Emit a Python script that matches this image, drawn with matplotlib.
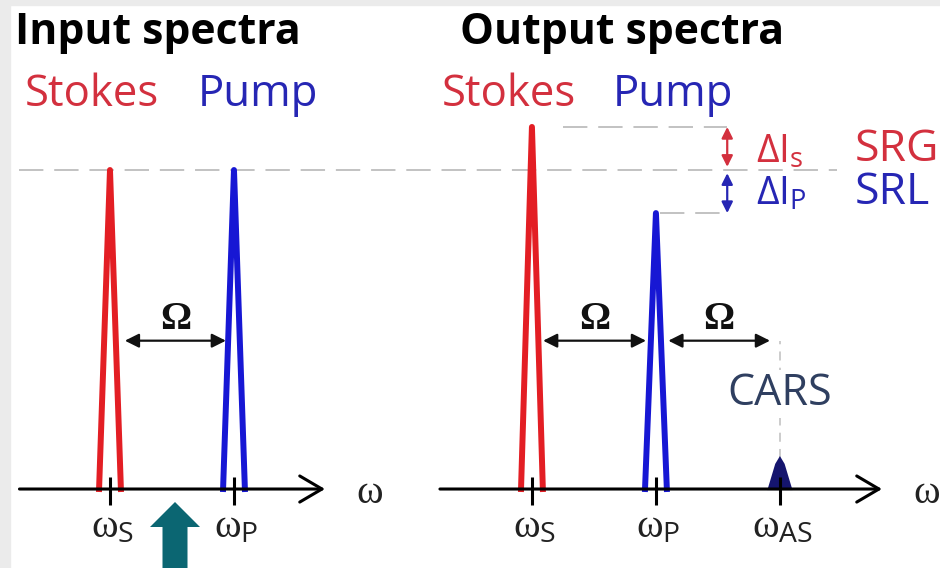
import numpy as np
import matplotlib
matplotlib.use("Agg")
import matplotlib.pyplot as plt
from matplotlib.patches import FancyArrowPatch, FancyArrow, Rectangle
from matplotlib.transforms import Affine2D

# spectra: frequency in units of the Raman shift, intensity relative to the input
in_freq = [0.0, 1.0]
in_amp = [1.0, 1.0]
in_colors = ["#e31e24", "#1717d4"]
in_ticks = [r"$\mathrm{\omega}_{\mathsf{S}}$", r"$\mathrm{\omega}_{\mathsf{P}}$"]

out_freq = [0.0, 1.0, 2.0]
out_amp = [1.135, 0.865, 0.097]
out_colors = ["#e31e24", "#1717d4", "#15156e"]
out_ticks = [r"$\mathrm{\omega}_{\mathsf{S}}$", r"$\mathrm{\omega}_{\mathsf{P}}$",
             r"$\mathrm{\omega}_{\mathsf{AS}}$"]

names = ["Stokes", "Pump"]
titles = ["Input spectra", "Output spectra"]

plt.rcParams['font.family'] = ['Open Sans', 'DejaVu Sans']
plt.rcParams['mathtext.fontset'] = 'custom'
plt.rcParams['mathtext.rm'] = 'Liberation Serif'
plt.rcParams['mathtext.it'] = 'Liberation Serif:italic'
plt.rcParams['mathtext.sf'] = 'Open Sans'

OUT_X0 = 3.403      # where the output panel starts on the common frequency axis
HALF_W = 0.088      # half width of a peak at its base
RED_TXT = "#d3303e"
BLUE_TXT = "#2626b4"
DASH = "#bdbdbd"

fig = plt.figure(figsize=(9.4, 5.68), dpi=100)
ax = fig.add_axes([0, 0, 1, 1])
ax.set_xlim(-0.887, 6.694)
ax.set_ylim(-0.2476, 1.533)
ax.axis('off')

# pixel transform (origin top left) for the free text
PX = Affine2D().scale(1 / 940, -1 / 568).translate(0, 1) + fig.transFigure

# light grey frame on the left and top
fig.patches.append(Rectangle((0, 0), 10, 568, transform=PX, color="#ebebeb", zorder=0))
fig.patches.append(Rectangle((0, 0), 940, 5, transform=PX, color="#ebebeb", zorder=0))


def peak(x0, a, color):
    ax.plot([x0 - HALF_W, x0, x0 + HALF_W], [0, a, 0], color=color, lw=4.3,
            solid_joinstyle='round', zorder=3)


def axis_line(x_start, x_end, freqs, labels):
    ax.add_patch(FancyArrowPatch((x_start, 0), (x_end, 0),
                                 arrowstyle='->,head_length=0.8,head_width=0.47',
                                 mutation_scale=20, lw=2.2, color='black',
                                 shrinkA=0, shrinkB=0, zorder=4))
    ax.vlines(freqs, -0.05, 0.038, color='black', lw=2.2, zorder=5)
    for f, lab in zip(freqs, labels):
        ax.text(f + 0.02, -0.118, lab, ha='center', va='center', fontsize=29,
                color='#222222')
    ax.text(x_end + 0.36, -0.012, r"$\mathrm{\omega}$", ha='center', va='center',
            fontsize=29, color='#222222')


def omega_arrow(x1, x2, y=0.465):
    ax.add_patch(FancyArrowPatch((x1, y), (x2, y),
                                 arrowstyle='<|-|>,head_length=0.7,head_width=0.35',
                                 mutation_scale=12, lw=1.6, color='#111111',
                                 shrinkA=0, shrinkB=0))
    ax.text((x1 + x2) / 2, y + 0.065, "Ω", ha='center', va='center', fontsize=28,
            fontweight='bold', family='Liberation Serif', color='#111111')


# input panel
for f, a, c in zip(in_freq, in_amp, in_colors):
    peak(f, a, c)
axis_line(-0.73, 1.734, in_freq, in_ticks)
omega_arrow(in_freq[0] + 0.12, in_freq[1] - 0.065)

# output panel
of = [OUT_X0 + f for f in out_freq]
for f, a, c in zip(of[:2], out_amp[:2], out_colors[:2]):
    peak(f, a, c)
ax.fill([of[2] - 0.09, of[2] - 0.03, of[2], of[2] + 0.03, of[2] + 0.09],
        [0, out_amp[2] * 0.8, out_amp[2], out_amp[2] * 0.8, 0],
        color=out_colors[2], lw=1.5, ec=out_colors[2], zorder=3)
axis_line(OUT_X0 - 0.742, OUT_X0 + 2.823, of, out_ticks)
omega_arrow(of[0] + 0.09, of[1] - 0.08)
omega_arrow(of[1] + 0.1, of[2] - 0.08)

# reference levels
ax.plot([-0.73, OUT_X0 + 2.46], [in_amp[0]] * 2, color=DASH, lw=1.3,
        dashes=(13.5, 6), zorder=1)
bx = of[1] + 0.575
ax.plot([of[0] + 0.25, bx], [out_amp[0]] * 2, color=DASH, lw=1.3, dashes=(13.5, 6), zorder=1)
ax.plot([of[1] + 0.03, bx], [out_amp[1]] * 2, color=DASH, lw=1.3, dashes=(13.5, 6), zorder=1)
ax.plot([of[2]] * 2, [out_amp[2], 0.465], color="#c8c8c8", lw=1.3, dashes=(5, 4), zorder=1)

# gain / loss arrows
for y1, y2, c in [(out_amp[0], in_amp[0] + 0.01, RED_TXT), (in_amp[0] - 0.01, out_amp[1], BLUE_TXT)]:
    ax.add_patch(FancyArrowPatch((bx, y1), (bx, y2),
                                 arrowstyle='<|-|>,head_length=0.6,head_width=0.3',
                                 mutation_scale=11, lw=1.6, color=c, shrinkA=0, shrinkB=0))

# text
ax.text(15, 33, titles[0], transform=PX, fontsize=30.8, fontweight='bold', va='center')
ax.text(460, 33, titles[1], transform=PX, fontsize=30.8, fontweight='bold', va='center')
for x0, dx in [(25, 173), (442, 171)]:
    ax.text(x0, 95, names[0], transform=PX, fontsize=31.5, color=RED_TXT, va='center')
    ax.text(x0 + dx, 95, names[1], transform=PX, fontsize=31.5, color=BLUE_TXT, va='center')

ax.text(756, 152, r"$\mathsf{\Delta I}_{\mathsf{s}}$", transform=PX, fontsize=28,
        color=RED_TXT, va='center')
ax.text(756, 194, r"$\mathsf{\Delta I}_{\mathsf{P}}$", transform=PX, fontsize=28,
        color=BLUE_TXT, va='center')
ax.text(855, 150, "SRG", transform=PX, fontsize=32, color=RED_TXT, va='center')
ax.text(855, 193, "SRL", transform=PX, fontsize=32, color=BLUE_TXT, va='center')
ax.text(780, 394, "CARS", transform=PX, fontsize=31, color="#2f3f60", ha='center',
        va='center', bbox=dict(fc='white', ec='none', pad=1), zorder=2)

# marker arrow under the axis
fig.patches.append(FancyArrow(175, 568, 0, -66, width=25, head_width=50, head_length=25,
                              length_includes_head=True, transform=PX,
                              color="#0b6672", lw=0))

fig.savefig("out.png", dpi=100)
